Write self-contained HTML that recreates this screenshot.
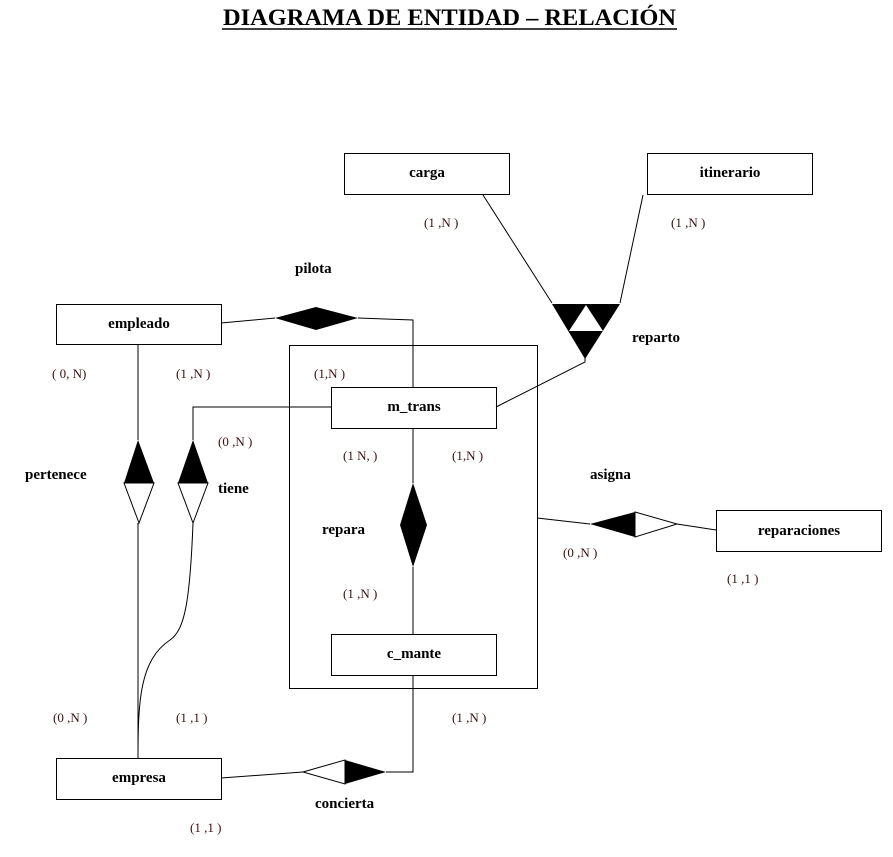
<!DOCTYPE html>
<html><head><style>
body{margin:0;background:#fff;width:893px;height:852px;overflow:hidden}
svg text{font-family:"Liberation Serif",serif}
.t{font-weight:bold;font-size:15px}
.c{font-size:13px;fill:#3a1010}
</style></head><body>
<svg width="893" height="852" xmlns="http://www.w3.org/2000/svg">
<text x="223" y="25" textLength="453" lengthAdjust="spacingAndGlyphs" font-size="23" font-weight="bold" style="font-family:'Liberation Serif',serif">DIAGRAMA DE ENTIDAD – RELACIÓN</text>
<line x1="222" y1="29" x2="677" y2="29" stroke="#000" stroke-width="1.5"/>
<g fill="#fff" stroke="#000" stroke-width="1">
<rect x="344.5" y="153.5" width="165" height="41"/>
<rect x="647.5" y="153.5" width="165" height="41"/>
<rect x="56.5" y="304.5" width="165" height="40"/>
<rect x="289.5" y="345.5" width="248" height="343"/>
<rect x="331.5" y="387.5" width="165" height="41"/>
<rect x="331.5" y="634.5" width="165" height="41"/>
<rect x="716.5" y="510.5" width="165" height="41"/>
<rect x="56.5" y="758.5" width="165" height="41"/>
</g>
<g stroke="#000" stroke-width="1" fill="none">
<line x1="483" y1="195" x2="552" y2="303"/>
<line x1="643" y1="195" x2="620" y2="303"/>
<polyline points="585,358 585,362 496,407"/>
<polyline points="221,323 275,318"/>
<polyline points="358,318 413,320 413,387"/>
<polyline points="331,407 193,407 193,440"/>
<path d="M193,523 C190,600 185,630 170,640 C140,660 138,700 138,758"/>
<line x1="138" y1="344" x2="138" y2="440"/>
<line x1="138" y1="523" x2="138" y2="758"/>
<line x1="413" y1="428" x2="413" y2="483"/>
<line x1="413" y1="567" x2="413" y2="634"/>
<line x1="537" y1="518" x2="590" y2="524"/>
<line x1="677" y1="524" x2="716" y2="530"/>
<line x1="221" y1="778" x2="303" y2="772"/>
<polyline points="386,772 413,772 413,675"/>
</g>
<polygon points="552,304 620,304 585,359" fill="#000"/>
<polygon points="586,305 569,331 603,331" fill="#fff"/>
<polygon points="275,318 316,307 358,318 316,330" fill="#000"/>
<polygon points="138,440 154,483 124,483" fill="#000"/>
<polygon points="124,483 154,483 139,523" fill="#fff" stroke="#000"/>
<polygon points="193,440 208,483 178,483" fill="#000"/>
<polygon points="178,483 208,483 193,523" fill="#fff" stroke="#000"/>
<polygon points="413,483 427,525 413,567 400,525" fill="#000"/>
<polygon points="590,524 635,512 635,537" fill="#000"/>
<polygon points="635,512 677,524 635,537" fill="#fff" stroke="#000"/>
<polygon points="303,772 345,760 345,784" fill="#fff" stroke="#000"/>
<polygon points="345,760 386,772 345,784" fill="#000"/>
<g class="t">
<text x="427" y="177" text-anchor="middle" class="t">carga</text>
<text x="730" y="177" text-anchor="middle" class="t">itinerario</text>
<text x="139" y="328" text-anchor="middle" class="t">empleado</text>
<text x="414" y="411" text-anchor="middle" class="t">m_trans</text>
<text x="414" y="658" text-anchor="middle" class="t">c_mante</text>
<text x="799" y="535" text-anchor="middle" class="t">reparaciones</text>
<text x="139" y="782" text-anchor="middle" class="t">empresa</text>
<text x="295" y="273" class="t">pilota</text>
<text x="632" y="342" class="t">reparto</text>
<text x="25" y="479" class="t">pertenece</text>
<text x="218" y="493" class="t">tiene</text>
<text x="322" y="534" class="t">repara</text>
<text x="590" y="479" class="t">asigna</text>
<text x="315" y="808" class="t">concierta</text>
</g>
<g class="c">
<text x="424" y="227" class="c">(1 ,N )</text>
<text x="671" y="227" class="c">(1 ,N )</text>
<text x="52" y="378" class="c">( 0, N)</text>
<text x="176" y="378" class="c">(1 ,N )</text>
<text x="314" y="378" class="c">(1,N )</text>
<text x="218" y="446" class="c">(0 ,N )</text>
<text x="343" y="460" class="c">(1 N, )</text>
<text x="452" y="460" class="c">(1,N )</text>
<text x="343" y="598" class="c">(1 ,N )</text>
<text x="563" y="557" class="c">(0 ,N )</text>
<text x="727" y="583" class="c">(1 ,1 )</text>
<text x="53" y="722" class="c">(0 ,N )</text>
<text x="176" y="722" class="c">(1 ,1 )</text>
<text x="452" y="722" class="c">(1 ,N )</text>
<text x="190" y="832" class="c">(1 ,1 )</text>
</g>
</svg>
</body></html>
